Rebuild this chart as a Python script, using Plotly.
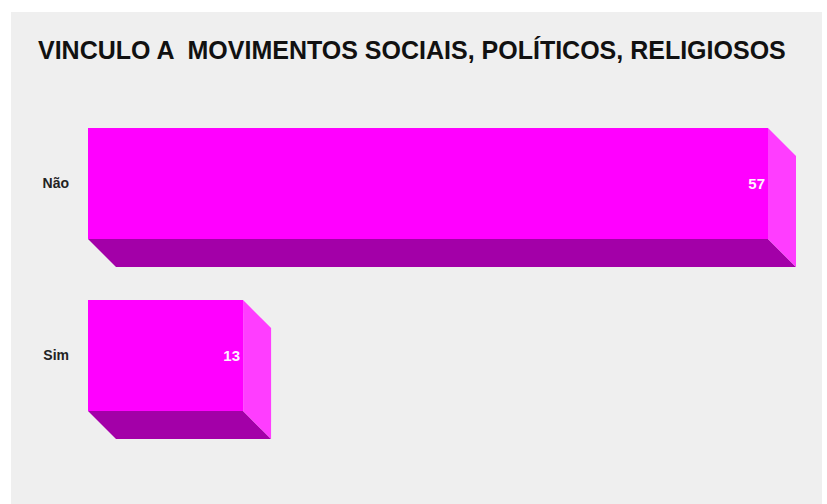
import plotly.graph_objects as go

# Survey answers and counts
categories = ["Não", "Sim"]
counts = [57, 13]

# Figure geometry (pixels)
W, H = 827, 504
M_L, M_R, M_T, M_B = 88, 27, 100, 34
PLOT_W = W - M_L - M_R
PLOT_H = H - M_T - M_B

PX_PER_UNIT = 680 / 57          # horizontal scale: value units -> pixels
ROW_GAP_PX = 172                # distance between bar centres
BAR_PX = 111                    # bar thickness
DEPTH_PX = 28                   # extrusion depth of the 3D effect

x_max = PLOT_W / PX_PER_UNIT
y_pos = [1, 0]                  # Não on top, Sim below
bar_w = BAR_PX / ROW_GAP_PX
dx = DEPTH_PX / PX_PER_UNIT
dy = DEPTH_PX / ROW_GAP_PX
y_top = 1 + (183.5 - M_T) / ROW_GAP_PX
y_bot = y_top - PLOT_H / ROW_GAP_PX

FRONT = "#ff00ff"
BOTTOM = "#a300a8"
SIDE = "#ff3dff"

fig = go.Figure()

# Extruded faces, built from each bar's value
for v, y in zip(counts, y_pos):
    lo = y - bar_w / 2
    hi = y + bar_w / 2
    fig.add_trace(go.Scatter(
        x=[0, v, v + dx, dx, 0],
        y=[lo, lo, lo - dy, lo - dy, lo],
        fill="toself", fillcolor=BOTTOM, mode="lines",
        line=dict(width=0, color=BOTTOM), hoverinfo="skip", showlegend=False,
    ))
    fig.add_trace(go.Scatter(
        x=[v, v + dx, v + dx, v, v],
        y=[hi, hi - dy, lo - dy, lo, hi],
        fill="toself", fillcolor=SIDE, mode="lines",
        line=dict(width=0, color=SIDE), hoverinfo="skip", showlegend=False,
    ))

# Front faces with value labels
fig.add_trace(go.Bar(
    x=counts, y=y_pos, orientation="h", width=bar_w,
    marker=dict(color=FRONT, line=dict(width=0)),
    text=[str(c) for c in counts], textposition="inside",
    insidetextanchor="end",
    textfont=dict(family="Liberation Sans", size=15, color="#fff0ff", weight="bold"),
    showlegend=False, hoverinfo="skip",
))

# Grey card behind everything
def px_x(p):
    return (p - M_L) / PLOT_W

def px_y(p):
    return (H - M_B - p) / PLOT_H

fig.add_shape(type="rect", xref="paper", yref="paper",
              x0=px_x(11), x1=px_x(822), y0=px_y(504), y1=px_y(12),
              fillcolor="#efefef", line=dict(width=0), layer="below")

fig.update_layout(
    width=W, height=H,
    margin=dict(l=M_L, r=M_R, t=M_T, b=M_B),
    paper_bgcolor="white", plot_bgcolor="rgba(0,0,0,0)",
    title=dict(
        text="VINCULO A  MOVIMENTOS SOCIAIS, POLÍTICOS, RELIGIOSOS",
        font=dict(family="Liberation Sans", size=25, color="#111111", weight="bold"),
        xref="container", yref="container",
        x=38 / W, xanchor="left", y=1 - 50 / H, yanchor="middle",
    ),
    xaxis=dict(range=[0, x_max], visible=False, showgrid=False, zeroline=False),
    yaxis=dict(range=[y_bot, y_top], tickvals=y_pos, ticktext=categories,
               showgrid=False, zeroline=False, showline=False, ticks="",
               ticklabelstandoff=18,
               tickfont=dict(family="Liberation Sans", size=14, color="#222222", weight="bold")),
    bargap=0,
)

fig.write_html("out.html")
